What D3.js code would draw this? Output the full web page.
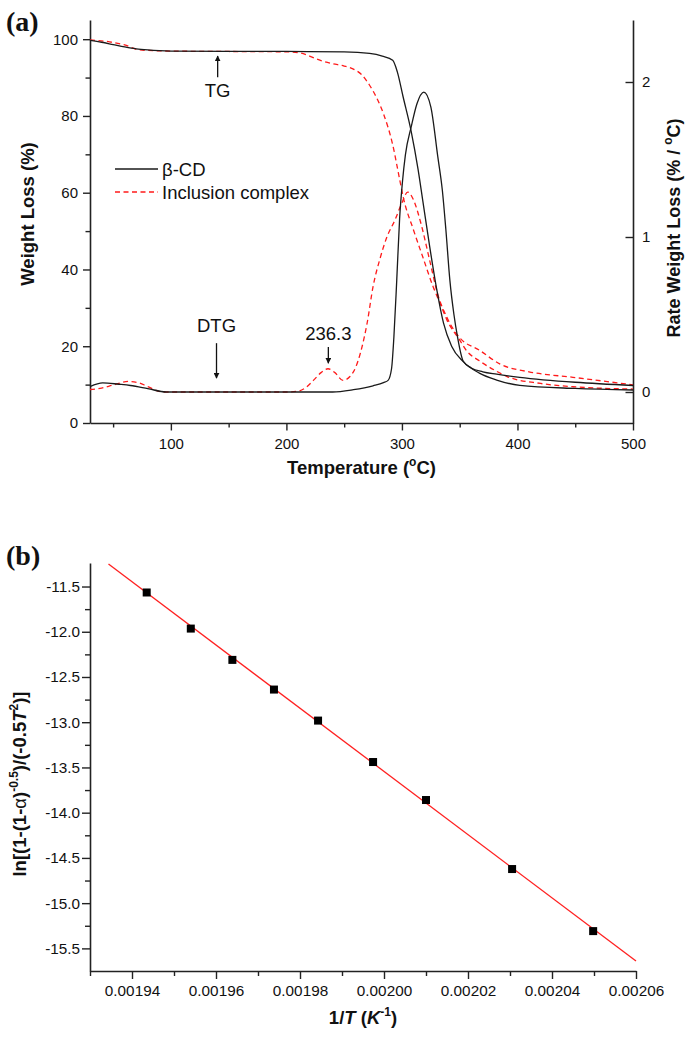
<!DOCTYPE html>
<html><head><meta charset="utf-8">
<script src="https://cdn.jsdelivr.net/npm/d3@7"></script>
<style>
body{margin:0;background:#fff;}
svg{display:block;}
text{font-family:Arial,"Liberation Sans",sans-serif;fill:#111;}
</style>
</head><body>
<svg id="c" width="685" height="1037"></svg>
<script>
// ---------- Panel (a) data ----------
const bcdTG_T = [30,40,50,60,70,80,90,100,150,200,250,272,283,292,296,301,308,314,318,324,330,336,343,353,367,382,402,450,500];
const bcdTG_W = [99.7,99.2,98.6,98.0,97.5,97.2,97.0,96.9,96.8,96.8,96.7,96.3,95.6,94.5,91.5,85,76,66,58,46,35,26,20,16,13,11.2,9.8,9.0,8.6];

const icTG_T = [30,47,60,73,100,150,200,212,220,230,240,250,258,265,272,278,284,292,298,301,310,318,327,333,339,350,356,367,380,391,420,448,500];
const icTG_W = [99.8,99.3,98.5,97.2,96.9,96.8,96.7,96.4,95.6,94.4,93.6,93.0,92.2,90.8,88,84.8,80.6,72.5,63.5,59,50.3,43.3,35.5,31.2,26.8,21.6,18.8,16.2,13.8,12.1,10.3,9.45,8.85];

const bcdDTG_T = [30,41,55,65,80,96,150,200,240,258,275,284,288,291,293,295.5,298,300.5,303,308,313,319,325,331,335,338,341.5,345,348,353,360,370,382,402,450,500];
const bcdDTG_V = [0.035,0.059,0.05,0.042,0.022,0,0,0,0,0.015,0.04,0.06,0.075,0.15,0.35,0.72,1.12,1.36,1.53,1.71,1.86,1.935,1.84,1.52,1.3,1.05,0.72,0.5,0.36,0.2,0.155,0.13,0.115,0.095,0.063,0.042];

const icDTG_T = [30,40,50,63,72,80,93,150,200,210,217,224,230,236,242,249,255,260,264,270,275,281,287,294,300,305,310,316,324,331,339,350,367,385,410,448,500];
const icDTG_V = [0.016,0.025,0.045,0.068,0.06,0.035,0,0,0,0.005,0.03,0.08,0.125,0.15,0.125,0.075,0.1,0.16,0.25,0.45,0.68,0.86,1.0,1.11,1.22,1.29,1.24,1.1,0.85,0.63,0.48,0.35,0.27,0.18,0.13,0.095,0.046];

const tempTicks = [100,200,300,400,500];
const tempMinor = [50,150,250,350,450];
const wlTicks = [0,20,40,60,80,100];
const wlMinor = [10,30,50,70,90];
const rateTicks = [0,1,2];

// annotations in data coordinates (T, weight-loss %)
const annotations = [
  {label:"TG",    T:140.5, textW:85,   from:90.1, to:95.6},
  {label:"DTG",   T:139.5, textW:23.7, from:20.8, to:11.7},
  {label:"236.3", T:236.3, textW:21.6, from:19.8, to:15.6}
];

// ---------- Panel (b) data ----------
const invT = [0.0019435,0.001954,0.0019639,0.0019738,0.0019843,0.0019974,0.0020100,0.0020305,0.0020498];
const lnY  = [-11.566,-11.965,-12.311,-12.639,-12.982,-13.44,-13.86,-14.623,-15.309];
const fitX = [0.0019344,0.00206];
const fitY = [-11.252,-15.64];
const invTTicks = [0.00194,0.00196,0.00198,0.00200,0.00202,0.00204,0.00206];
const invTMinor = [0.00193,0.00195,0.00197,0.00199,0.00201,0.00203,0.00205];
const lnTicks = [-11.5,-12.0,-12.5,-13.0,-13.5,-14.0,-14.5,-15.0,-15.5];
const lnMinor = [-11.75,-12.25,-12.75,-13.25,-13.75,-14.25,-14.75,-15.25];

const svg = d3.select("#c");
const AX = "#222";
function styleAxis(g, fs){
  g.select(".domain").attr("stroke",AX).attr("stroke-width",1.6);
  g.selectAll(".tick line").attr("stroke",AX).attr("stroke-width",1.4);
  g.selectAll(".tick text").attr("font-size",fs||15).attr("fill","#111")
    .attr("font-family","Arial, 'Liberation Sans', sans-serif");
}
function minor(g){ g.select(".domain").remove(); g.selectAll(".tick line").attr("stroke",AX).attr("stroke-width",1.4); }

// ================= Panel (a) =================
const x = d3.scaleLinear([30,500],[90,633]);
const yL = d3.scaleLinear([0,105],[423,20]);
const yR = d3.scaleLinear([-0.2,2.4],[423,20]);

svg.append("g").attr("transform","translate(0,423)")
  .call(d3.axisBottom(x).tickValues(tempMinor).tickSize(4.5).tickFormat("")).call(minor);
svg.append("g").attr("transform","translate(90,0)")
  .call(d3.axisLeft(yL).tickValues(wlMinor).tickSize(4.5).tickFormat("")).call(minor);
svg.append("g").attr("transform","translate(0,423)")
  .call(d3.axisBottom(x).tickValues(tempTicks).tickSize(7.5).tickSizeOuter(0).tickPadding(8)).call(g=>styleAxis(g));
svg.append("g").attr("transform","translate(90,0)")
  .call(d3.axisLeft(yL).tickValues(wlTicks).tickSize(7).tickSizeOuter(0).tickPadding(5)).call(g=>styleAxis(g));
svg.append("g").attr("transform","translate(633,0)")
  .call(d3.axisRight(yR).tickValues(rateTicks).tickSize(-7.5).tickSizeOuter(0).tickPadding(9).tickFormat(d=>String(d))).call(g=>styleAxis(g));

const lineTG = (Ts,Ws)=> d3.line().curve(d3.curveMonotoneX).x((d,i)=>x(Ts[i])).y((d,i)=>yL(Ws[i]))(Ts);
const lineDTG = (Ts,Vs)=> d3.line().curve(d3.curveMonotoneX).x((d,i)=>x(Ts[i])).y((d,i)=>yR(Vs[i]))(Ts);

const RED = "#ff1a1a", BLK = "#1a1a1a", DASH = "5,3.5";
svg.append("path").attr("d",lineDTG(icDTG_T,icDTG_V)).attr("fill","none").attr("stroke",RED).attr("stroke-width",1.3).attr("stroke-dasharray",DASH);
svg.append("path").attr("d",lineTG(icTG_T,icTG_W)).attr("fill","none").attr("stroke",RED).attr("stroke-width",1.3).attr("stroke-dasharray",DASH);
svg.append("path").attr("d",lineDTG(bcdDTG_T,bcdDTG_V)).attr("fill","none").attr("stroke",BLK).attr("stroke-width",1.3);
svg.append("path").attr("d",lineTG(bcdTG_T,bcdTG_W)).attr("fill","none").attr("stroke",BLK).attr("stroke-width",1.3);

svg.append("defs").append("marker").attr("id","ah").attr("viewBox","0 0 10 10")
  .attr("refX",9).attr("refY",5).attr("markerWidth",6).attr("markerHeight",6)
  .attr("markerUnits","userSpaceOnUse").attr("orient","auto")
  .append("path").attr("d","M0,0 L10,5 L0,10 Z").attr("fill","#111");

annotations.forEach(a=>{
  svg.append("text").attr("x",x(a.T)).attr("y",yL(a.textW)).attr("text-anchor","middle")
    .attr("font-size",18.5).text(a.label);
  svg.append("line").attr("x1",x(a.T)).attr("x2",x(a.T)).attr("y1",yL(a.from)).attr("y2",yL(a.to))
    .attr("stroke","#111").attr("stroke-width",1.3).attr("marker-end","url(#ah)");
});

const leg = svg.append("g");
leg.append("line").attr("x1",115).attr("x2",158).attr("y1",169).attr("y2",169).attr("stroke",BLK).attr("stroke-width",1.3);
leg.append("text").attr("x",162).attr("y",176).attr("font-size",18.5).text("β-CD");
leg.append("line").attr("x1",115).attr("x2",158).attr("y1",192).attr("y2",192).attr("stroke",RED).attr("stroke-width",1.3).attr("stroke-dasharray",DASH);
leg.append("text").attr("x",162).attr("y",199).attr("font-size",18.5).text("Inclusion complex");

const tT = svg.append("text").attr("x",361.5).attr("y",474).attr("text-anchor","middle").attr("font-size",18.5).attr("font-weight","bold");
tT.append("tspan").text("Temperature (");
tT.append("tspan").attr("font-size",12).attr("dy",-8).text("o");
tT.append("tspan").attr("dy",8).text("C)");

svg.append("text").attr("transform","translate(34,214) rotate(-90)").attr("text-anchor","middle")
  .attr("font-size",18.5).attr("font-weight","bold").text("Weight Loss (%)");

const rT = svg.append("text").attr("transform","translate(680,228) rotate(-90)").attr("text-anchor","middle")
  .attr("font-size",18).attr("font-weight","bold");
rT.append("tspan").text("Rate Weight Loss (% / ");
rT.append("tspan").attr("font-size",12).attr("dy",-8).text("o");
rT.append("tspan").attr("dy",8).text("C)");

svg.append("text").attr("x",6).attr("y",31)
  .style("font-family","'Liberation Serif','Times New Roman',serif").attr("font-size",28).attr("font-weight","bold").text("(a)");

// ================= Panel (b) =================
const xb = d3.scaleLinear([0.00193,0.00206],[90,636]);
const yb = d3.scaleLinear([-15.75,-11.24],[971,563]);

svg.append("g").attr("transform","translate(0,971)")
  .call(d3.axisBottom(xb).tickValues(invTMinor).tickSize(5).tickFormat("")).call(minor);
svg.append("g").attr("transform","translate(90,0)")
  .call(d3.axisLeft(yb).tickValues(lnMinor).tickSize(5).tickFormat("")).call(minor);
svg.append("g").attr("transform","translate(0,971)")
  .call(d3.axisBottom(xb).tickValues(invTTicks).tickSize(8).tickSizeOuter(0).tickPadding(6).tickFormat(d=>d.toFixed(5))).call(g=>styleAxis(g,15.3));
svg.append("g").attr("transform","translate(90,0)")
  .call(d3.axisLeft(yb).tickValues(lnTicks).tickSize(8).tickSizeOuter(0).tickPadding(2).tickFormat(d=>d.toFixed(1))).call(g=>styleAxis(g,15.3));

svg.append("path").attr("d",d3.line().x((d,i)=>xb(fitX[i])).y((d,i)=>yb(fitY[i]))(fitX))
  .attr("stroke","#ff2020").attr("stroke-width",1.3).attr("fill","none");

svg.append("g").selectAll("rect").data(invT).join("rect")
  .attr("x",(d)=>xb(d)-4).attr("y",(d,i)=>yb(lnY[i])-4).attr("width",8).attr("height",8).attr("fill","#000");

const bx = svg.append("text").attr("x",363).attr("y",1024).attr("text-anchor","middle").attr("font-size",18.5).attr("font-weight","bold");
bx.append("tspan").text("1/");
bx.append("tspan").attr("font-style","italic").text("T");
bx.append("tspan").text(" (");
bx.append("tspan").attr("font-style","italic").text("K");
bx.append("tspan").attr("font-size",12).attr("dy",-8).text("-1");
bx.append("tspan").attr("dy",8).text(")");

const by = svg.append("text").attr("transform","translate(26,784) rotate(-90)").attr("text-anchor","middle")
  .attr("font-size",18.5).attr("font-weight","bold");
by.append("tspan").text("ln[(1-(1-");
by.append("tspan").attr("font-weight","normal").text("α");
by.append("tspan").text(")");
by.append("tspan").attr("font-size",12).attr("dy",-8).text("-0.5");
by.append("tspan").attr("dy",8).text(")/(-0.5");
by.append("tspan").attr("font-style","italic").text("T");
by.append("tspan").attr("font-size",12).attr("dy",-8).text("2");
by.append("tspan").attr("dy",8).text(")]");

svg.append("text").attr("x",6).attr("y",565)
  .style("font-family","'Liberation Serif','Times New Roman',serif").attr("font-size",28).attr("font-weight","bold").text("(b)");
</script>
</body></html>
